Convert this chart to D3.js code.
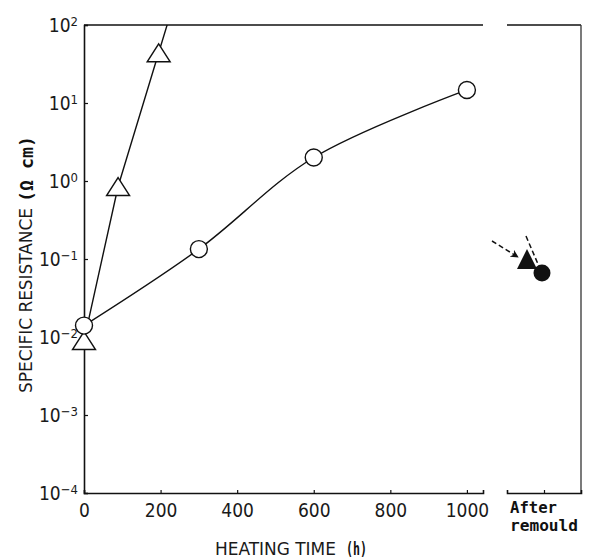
<!DOCTYPE html>
<html>
<head>
<meta charset="utf-8">
<script src="https://cdn.jsdelivr.net/npm/d3@7"></script>
<style>
  html, body { margin: 0; padding: 0; background: #fff; }
  svg { display: block; }
  .tick text, .cond { font-family: "DejaVu Sans Condensed", "DejaVu Sans", sans-serif; font-stretch: condensed; fill: #1a1a1a; }
  .bold { font-family: "DejaVu Sans Mono", monospace; font-weight: bold; fill: #111; }
</style>
</head>
<body>
<svg id="chart" width="590" height="560"></svg>
<script>
// Resistance vs. heating time (log scale), plus values after remoulding
const circleHours = [0, 300, 600, 1000];
const circleRes   = [0.014, 0.134, 2.0, 14.7];
const triHours    = [0, 89, 195];
const triRes      = [0.009, 0.85, 44];
const afterCategory = ["After remould"];
const afterTriRes    = [0.1];
const afterCircleRes = [0.066];
const xTickValues = [0, 200, 400, 600, 800, 1000];
const yTickExponents = [2, 1, 0, -1, -2, -3, -4];

const svg = d3.select("#chart");
const ink = "#111";

const plotTop = 25, plotBottom = 493;
const x = d3.scaleLinear().domain([0, 1042]).range([84, 483]);
const xr = d3.scalePoint().domain(afterCategory).range([507, 581]).padding(0.5);
const y = d3.scaleLog().domain([1e-4, 1e2]).range([plotBottom, plotTop]);

const defs = svg.append("defs");
// clip region for the main panel
defs.append("clipPath").attr("id", "mainClip")
  .append("rect").attr("x", 60).attr("y", plotTop).attr("width", 440).attr("height", plotBottom - plotTop);

// arrowhead
defs.append("marker")
  .attr("id", "arrow").attr("viewBox", "0 0 10 10").attr("refX", 9).attr("refY", 5)
  .attr("markerWidth", 8).attr("markerHeight", 8).attr("orient", "auto")
  .attr("markerUnits", "userSpaceOnUse")
  .append("path").attr("d", "M0,0 L10,5 L0,10 L3,5 Z").attr("fill", ink);

// ---- main panel axes ----
const yAxis = d3.axisLeft(y).tickValues(yTickExponents.map(e => Math.pow(10, e)))
  .tickSize(-4).tickFormat("");
const gy = svg.append("g").attr("transform", `translate(${x(0)},0)`).call(yAxis);
gy.select(".domain").attr("stroke", ink).attr("stroke-width", 1.6);
gy.selectAll(".tick line").attr("stroke", ink).attr("stroke-width", 1.2);
gy.selectAll(".tick text").remove();
gy.selectAll(".tick").each(function (d) {
  const e = Math.round(Math.log10(d));
  const t = d3.select(this).append("text")
    .attr("x", -6).attr("dy", "0.36em").attr("text-anchor", "end")
    .style("font-size", "19px");
  t.append("tspan").text("10");
  t.append("tspan").attr("dy", "-0.5em").style("font-size", "13px")
    .text(e < 0 ? "\u2212" + Math.abs(e) : String(e));
});

const xAxis = d3.axisBottom(x).tickValues(xTickValues).tickSize(-3).tickPadding(8).tickFormat(d3.format("d"));
const gx = svg.append("g").attr("transform", `translate(0,${plotBottom})`).call(xAxis);
gx.select(".domain").attr("stroke", ink).attr("stroke-width", 1.6);
gx.selectAll(".tick line").attr("stroke", ink).attr("stroke-width", 1.2);
gx.selectAll(".tick text").style("font-size", "19px").attr("dy", "0.85em");

// top frame of the main panel
svg.append("line").attr("x1", x(0)).attr("x2", x.range()[1]).attr("y1", plotTop).attr("y2", plotTop)
  .attr("stroke", ink).attr("stroke-width", 1.6);

// ---- right panel frame ----
const [rx0, rx1] = xr.range();
svg.append("line").attr("x1", rx0).attr("x2", rx1).attr("y1", plotTop).attr("y2", plotTop)
  .attr("stroke", ink).attr("stroke-width", 1.6);
svg.append("line").attr("x1", rx1).attr("x2", rx1).attr("y1", plotTop).attr("y2", plotBottom)
  .attr("stroke", "#333").attr("stroke-width", 1.3);
const gxr = svg.append("g").attr("transform", `translate(0,${plotBottom})`)
  .call(d3.axisBottom(xr).tickSize(-3).tickFormat(""));
gxr.select(".domain").attr("stroke", ink).attr("stroke-width", 1.6);
gxr.selectAll(".tick line").attr("stroke", ink).attr("stroke-width", 1.2);
svg.append("text").attr("class", "bold").attr("x", rx0 + 3).attr("y", 513)
  .attr("font-size", 16).attr("textLength", 47).attr("lengthAdjust", "spacingAndGlyphs").text("After");
svg.append("text").attr("class", "bold").attr("x", rx0 + 3).attr("y", 531)
  .attr("font-size", 16).attr("textLength", 68).attr("lengthAdjust", "spacingAndGlyphs").text("remould");

// ---- axis titles ----
svg.append("text").attr("class", "cond").attr("x", 215).attr("y", 555)
  .attr("font-size", 18).attr("textLength", 121).attr("lengthAdjust", "spacingAndGlyphs")
  .text("HEATING TIME");
svg.append("text").attr("class", "bold").attr("x", 346).attr("y", 555)
  .attr("font-size", 17).attr("textLength", 21).attr("lengthAdjust", "spacingAndGlyphs")
  .text("(h)");

svg.append("text").attr("class", "cond").attr("transform", "translate(32,393) rotate(-90)")
  .attr("font-size", 18).attr("textLength", 185).attr("lengthAdjust", "spacingAndGlyphs")
  .text("SPECIFIC RESISTANCE");
svg.append("text").attr("class", "bold").attr("transform", "translate(33,202) rotate(-90)")
  .attr("font-size", 17).attr("textLength", 66).attr("lengthAdjust", "spacingAndGlyphs")
  .text("(\u03A9 cm)");

// ---- series lines ----
const plot = svg.append("g").attr("clip-path", "url(#mainClip)");

const circlePts = circleHours.map((h, i) => [x(h), y(circleRes[i])]);
plot.append("path")
  .attr("d", d3.line().curve(d3.curveCatmullRom.alpha(0.5))(circlePts))
  .attr("fill", "none").attr("stroke", ink).attr("stroke-width", 1.4);

// triangle series runs off the top of the frame; extend its last segment
const triPts = triHours.map((h, i) => [x(h), y(triRes[i])]);
const [pa, pb] = triPts.slice(-2);
const tExt = (plotTop - 10 - pb[1]) / (pb[1] - pa[1]);
const triLinePts = triPts.concat([[pb[0] + tExt * (pb[0] - pa[0]), plotTop - 10]]);
plot.append("path")
  .attr("d", d3.line()(triLinePts))
  .attr("fill", "none").attr("stroke", ink).attr("stroke-width", 1.4);

// ---- markers ----
const triPath = (w, h) => `M0,${-h / 2} L${w / 2},${h / 2} L${-w / 2},${h / 2} Z`;

svg.append("g").selectAll("path").data(triPts).join("path")
  .attr("transform", d => `translate(${d[0]},${d[1]})`)
  .attr("d", triPath(23, 18))
  .attr("fill", "#fff").attr("stroke", ink).attr("stroke-width", 1.4);

svg.append("g").selectAll("circle").data(circlePts).join("circle")
  .attr("cx", d => d[0]).attr("cy", d => d[1]).attr("r", 8.5)
  .attr("fill", "#fff").attr("stroke", ink).attr("stroke-width", 1.4);

// after remoulding: filled markers with dashed pointer arrows
const afterTri = afterCategory.map((c, i) => [xr(c) - 17, y(afterTriRes[i])]);
const afterCirc = afterCategory.map((c, i) => [xr(c) - 2, y(afterCircleRes[i])]);

svg.append("g").selectAll("path").data(afterTri).join("path")
  .attr("transform", d => `translate(${d[0]},${d[1]})`)
  .attr("d", triPath(20, 20)).attr("fill", ink);
svg.append("g").selectAll("circle").data(afterCirc).join("circle")
  .attr("cx", d => d[0]).attr("cy", d => d[1]).attr("r", 8.5).attr("fill", ink);

const arrows = [
  { from: [afterTri[0][0] - 35, afterTri[0][1] - 18], to: [afterTri[0][0] - 9, afterTri[0][1] - 2] },
  { from: [afterCirc[0][0] - 16, afterCirc[0][1] - 37], to: [afterCirc[0][0] - 4, afterCirc[0][1] - 9] }
];
svg.append("g").selectAll("line").data(arrows).join("line")
  .attr("x1", d => d.from[0]).attr("y1", d => d.from[1])
  .attr("x2", d => d.to[0]).attr("y2", d => d.to[1])
  .attr("stroke", ink).attr("stroke-width", 1.5).attr("stroke-dasharray", "5,3")
  .attr("marker-end", (d, i) => i === 0 ? "url(#arrow)" : null);
</script>
</body>
</html>
